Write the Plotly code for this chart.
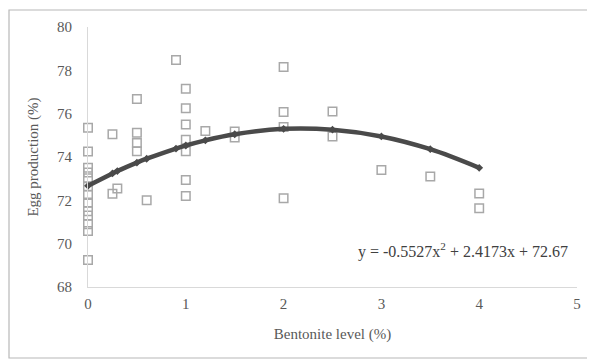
import plotly.graph_objects as go

# Observed egg production points
obs_x = [0]*13 + [0.25, 0.25, 0.3,
                  0.5, 0.5, 0.5, 0.5, 0.6, 0.9,
                  1, 1, 1, 1, 1, 1, 1, 1.2, 1.5, 1.5,
                  2, 2, 2, 2, 2.5, 2.5, 3, 3.5, 4, 4]
obs_y = [75.35, 74.25, 73.5, 73.28, 73.02, 72.65, 72.25, 71.9, 71.5, 71.3, 70.9, 70.58, 69.25,
         75.05, 72.3, 72.55,
         76.68, 75.12, 74.65, 74.27, 72.0, 78.48,
         77.15, 76.25, 75.5, 74.8, 74.27, 72.94, 72.2, 75.2, 75.18, 74.9,
         78.15, 76.08, 75.38, 72.1, 76.1, 74.95, 73.4, 73.1, 72.32, 71.63]

# Fitted trend
fit_x = [0, 0.25, 0.3, 0.5, 0.6, 0.9, 1, 1.2, 1.5, 2, 2.5, 3, 3.5, 4]
fit_y = [72.67, 73.24, 73.35, 73.74, 73.92, 74.39, 74.53, 74.77, 75.05, 75.30, 75.26, 74.95, 74.36, 73.50]

equation = "y = -0.5527x<sup>2</sup> + 2.4173x + 72.67"

x_ticks = [0, 1, 2, 3, 4, 5]
y_ticks = [68, 70, 72, 74, 76, 78, 80]

font_fam = "Liberation Serif, Times New Roman, serif"

L, R, T, B = 80, 26, 19, 84
W, H = 595, 363
pw, ph = W - L - R, H - T - B

fig = go.Figure()
fig.add_trace(go.Scatter(
    x=obs_x, y=obs_y, mode="markers", cliponaxis=False,
    marker=dict(symbol="square-open", size=8.5, color="#a8a8a8", line=dict(width=1.5, color="#a8a8a8")),
    showlegend=False))
fig.add_trace(go.Scatter(
    x=fit_x, y=fit_y, mode="lines+markers", cliponaxis=False,
    line=dict(color="#4a4a4a", width=4.5, shape="spline"),
    marker=dict(symbol="diamond", size=6, color="#4a4a4a"),
    showlegend=False))

fig.add_annotation(x=(562 - L) / pw, y=0.142, xref="paper", yref="paper", text=equation,
                   showarrow=False, xanchor="right", yanchor="middle",
                   font=dict(family=font_fam, size=16, color="#404040"))

fig.add_shape(type="rect", xref="paper", yref="paper", layer="above",
              x0=(1 - L) / pw, x1=(580 - L) / pw,
              y0=((H - B) - 350) / ph, y1=((H - B) - 2) / ph,
              line=dict(color="#b8b8b8", width=1.2))

fig.update_layout(
    width=W, height=H,
    margin=dict(l=L, r=R, t=T, b=B),
    paper_bgcolor="white", plot_bgcolor="white",
    font=dict(family=font_fam, size=15, color="#595959"),
    xaxis=dict(range=[0, 5], tickvals=x_ticks, showgrid=False, zeroline=False,
               showline=True, linecolor="#d9d9d9", linewidth=1, ticks="",
               ticklabelstandoff=3,
               title=dict(text="Bentonite level (%)", font=dict(size=15, color="#595959"), standoff=17),
               tickfont=dict(size=15, color="#595959")),
    yaxis=dict(range=[68, 80], tickvals=y_ticks, showgrid=False, zeroline=False,
               showline=True, linecolor="#d9d9d9", linewidth=1, ticks="",
               ticklabelstandoff=12,
               title=dict(text="Egg production (%)", font=dict(size=15, color="#595959"), standoff=14),
               tickfont=dict(size=15, color="#595959")),
)

fig.write_html("out.html")
